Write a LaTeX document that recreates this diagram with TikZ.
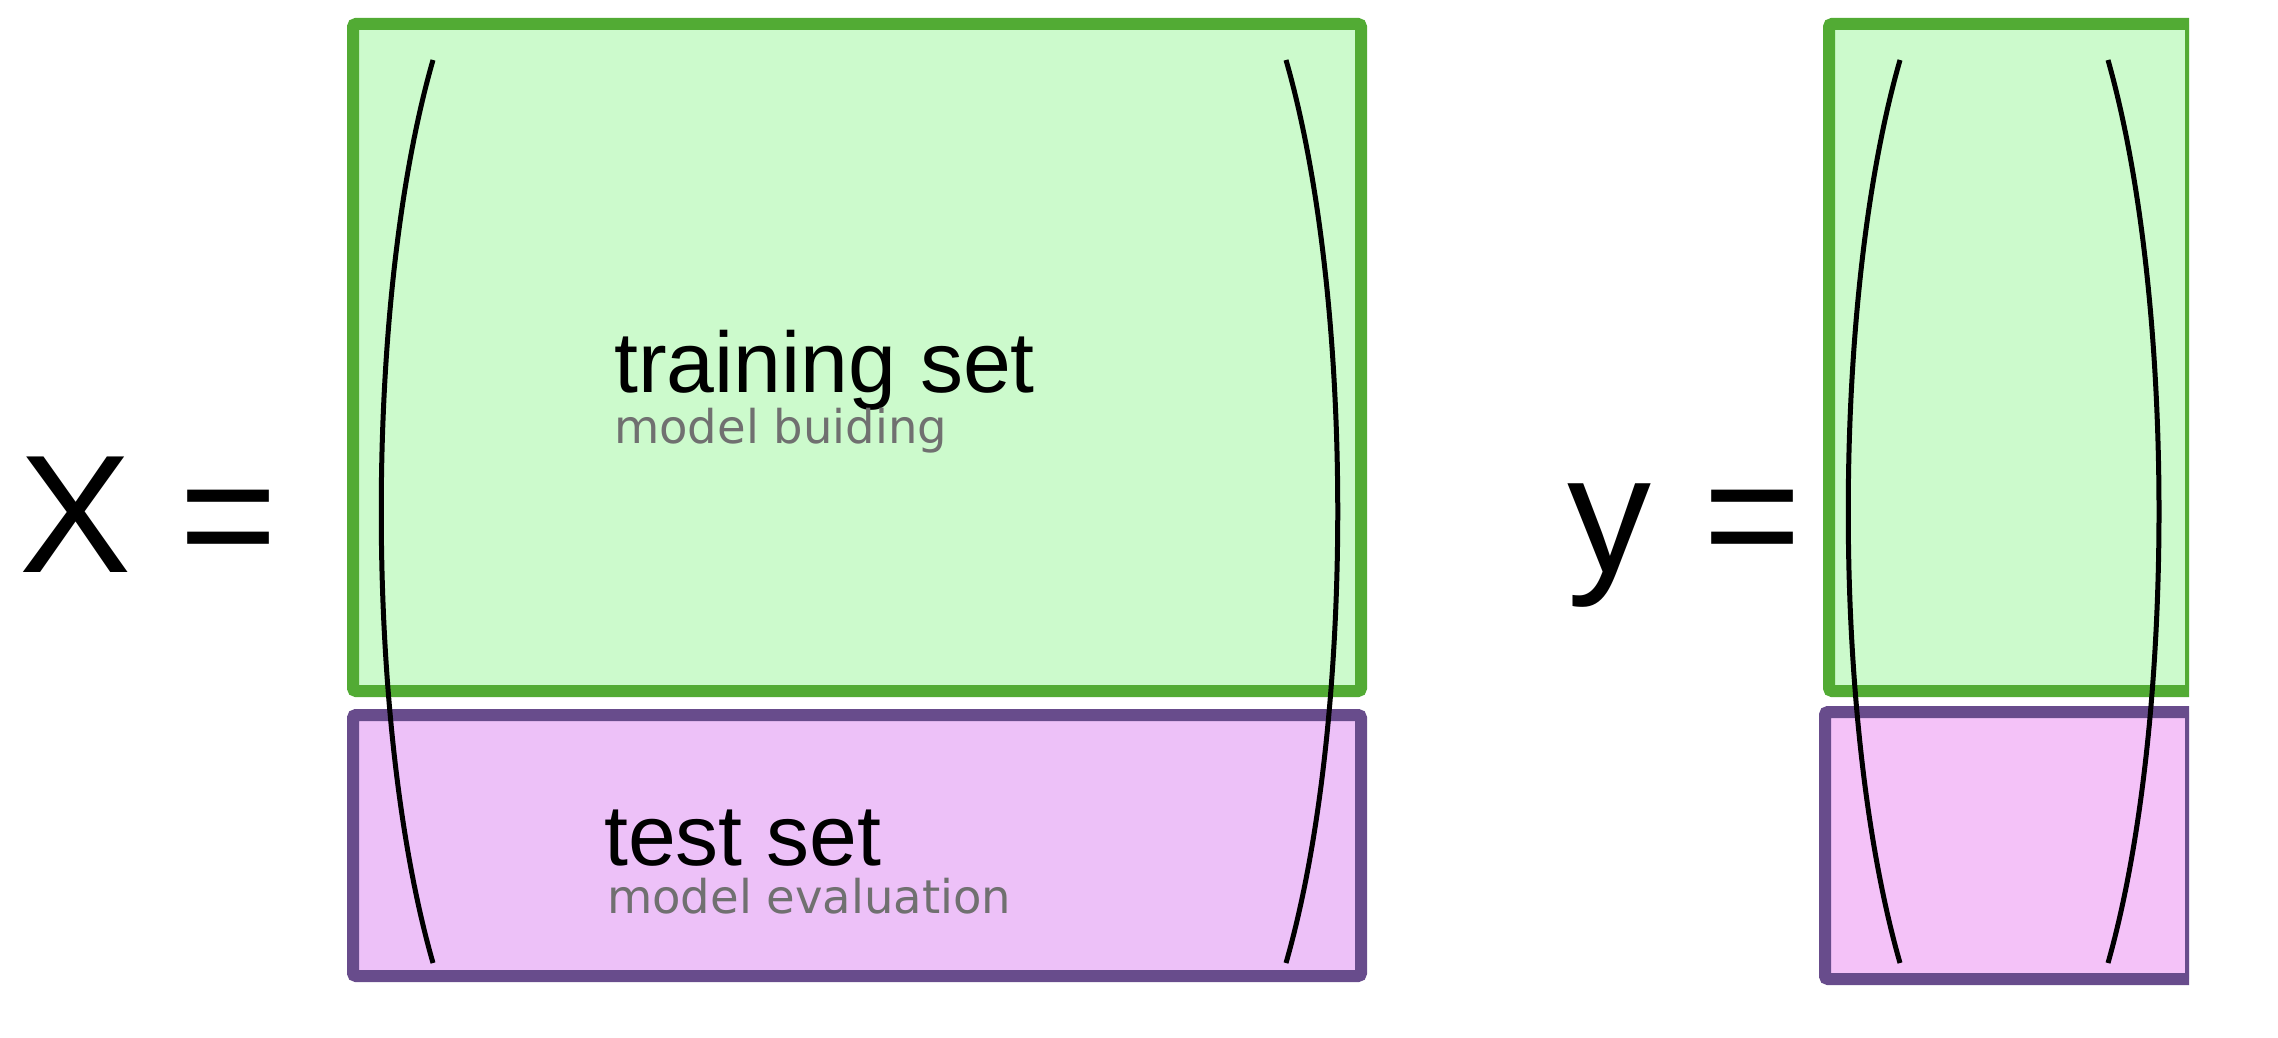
\documentclass[tikz,border=0pt]{standalone}
\usepackage{fontspec}
\setmainfont{Liberation Sans}
\newfontfamily\subfont{DejaVu Sans}
\definecolor{trainfill}{HTML}{CCFACC}
\definecolor{traindraw}{HTML}{52AB34}
\definecolor{testfill}{HTML}{EDC1F8}
\definecolor{testfillb}{HTML}{F4C2F8}
\definecolor{testdraw}{HTML}{684C8C}
\definecolor{subgray}{HTML}{707070}
\tikzset{
  trainbox/.style={fill=trainfill, draw=traindraw, line width=12pt, rounded corners=3pt},
  testbox/.style={fill=testfill, draw=testdraw, line width=12pt, rounded corners=3pt},
  paren/.style={draw=black, line width=5pt},
  bigtext/.style={font=\fontsize{86}{90}\selectfont, inner sep=0pt, anchor=base west},
  subtext/.style={font=\subfont\fontsize{46.5}{50}\selectfont, text=subgray, inner sep=0pt, anchor=base west},
  eqtext/.style={font=\fontsize{168}{175}\selectfont, inner sep=0pt, anchor=base west}
}
\begin{document}
\begin{tikzpicture}[x=1pt,y=-1pt]
\useasboundingbox (0,0) rectangle (2278,1038);
% left matrix
\draw[trainbox] (353,24) rectangle (1361,691);
\draw[testbox] (353,715) rectangle (1361,976);
\node[bigtext] (train) at (614,392) {training set};
\node[subtext] (trainsub) at (614,443) {model buiding};
\node[bigtext] (test) at (604,865) {test set};
\node[subtext] (testsub) at (607,913) {model evaluation};
\coordinate (XLt) at (433,60);
\coordinate (XLb) at (433,963);
\coordinate (XRt) at (1286,60);
\coordinate (XRb) at (1286,963);
\draw[paren] (XLt) .. controls (364,300) and (364,723) .. (XLb);
\draw[paren] (XRt) .. controls (1355,300) and (1355,723) .. (XRb);
% right vector
\begin{scope}
\clip (0,0) rectangle (2189,1038);
\draw[trainbox] (1829,24) rectangle (2191,691);
\draw[testbox, fill=testfillb] (1825,712) rectangle (2191,979);
\end{scope}
\coordinate (yLt) at (1900,60);
\coordinate (yLb) at (1900,963);
\coordinate (yRt) at (2108,60);
\coordinate (yRb) at (2108,963);
\draw[paren] (yLt) .. controls (1831,300) and (1831,723) .. (yLb);
\draw[paren] (yRt) .. controls (2176,300) and (2176,723) .. (yRb);
% labels
\node[eqtext] (X) at (19,572) {X};
\node[eqtext] (Xeq) at (179,572) {=};
\node[eqtext] (y) at (1567,572) {y};
\node[eqtext] (yeq) at (1703,572) {=};
\end{tikzpicture}
\end{document}
